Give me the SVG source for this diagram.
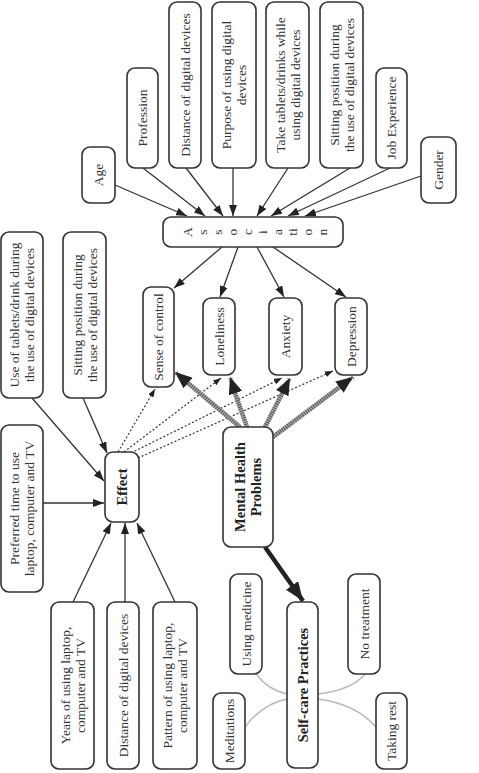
<svg xmlns="http://www.w3.org/2000/svg" width="479" height="773" viewBox="0 0 479 773">
<style>
.box{fill:#fff;stroke:#333;stroke-width:1.6}
.t{font-family:"Liberation Serif","Times New Roman",serif;font-size:13.5px;fill:#333;text-anchor:middle}
.b{font-weight:bold;font-size:14.5px;fill:#222}
.ln{fill:none;stroke:#333;stroke-width:1.3;marker-end:url(#arr)}
.dot{fill:none;stroke:#333;stroke-width:1.2;stroke-dasharray:2 2;marker-end:url(#sarr)}
.hb{fill:none;stroke:#aaa;stroke-width:4.5}
.hs{fill:none;stroke:#555;stroke-width:4.5;stroke-dasharray:1 1.3;marker-end:url(#barr)}
.blk{fill:none;stroke:#222;stroke-width:4.5;marker-end:url(#karr)}
.cv{fill:none;stroke:#bbb;stroke-width:1.6}
</style>
<defs>
<marker id="arr" markerUnits="userSpaceOnUse" markerWidth="11" markerHeight="8" refX="11" refY="4" orient="auto"><path d="M0,0 L11,4 L0,8 z" fill="#222"/></marker>
<marker id="sarr" markerUnits="userSpaceOnUse" markerWidth="8" markerHeight="6" refX="8" refY="3" orient="auto"><path d="M0,0 L8,3 L0,6 z" fill="#222"/></marker>
<marker id="barr" markerUnits="userSpaceOnUse" markerWidth="17" markerHeight="14" refX="17" refY="7" orient="auto"><path d="M0,0 L17,7 L0,14 z" fill="#222"/></marker>
<marker id="karr" markerUnits="userSpaceOnUse" markerWidth="19" markerHeight="15" refX="19" refY="7.5" orient="auto"><path d="M0,0 L19,7.5 L0,15 z" fill="#222"/></marker>
</defs>

<g id="connectors">
<path class="ln" d="M115,185 L187,216"/>
<path class="ln" d="M143,168 L205,216"/>
<path class="ln" d="M186,168 L223,216"/>
<path class="ln" d="M233,168 L233,216"/>
<path class="ln" d="M288,168 L257,216"/>
<path class="ln" d="M350,168 L271,216"/>
<path class="ln" d="M390,168 L288,216"/>
<path class="ln" d="M421,176 L305,216"/>
<path class="ln" d="M222,247 L174,288"/>
<path class="ln" d="M238,247 L220,297"/>
<path class="ln" d="M257,247 L284,297"/>
<path class="ln" d="M273,247 L346,297"/>
<path class="ln" d="M32,398 L104,481"/>
<path class="ln" d="M83,398 L107,453"/>
<path class="ln" d="M43,503 L104,503"/>
<path class="ln" d="M73,602 L111,523"/>
<path class="ln" d="M125,602 L125,523"/>
<path class="ln" d="M175,602 L137,523"/>
<path class="dot" d="M118,452 L155,389"/>
<path class="dot" d="M124,452 L221,378"/>
<path class="dot" d="M131,453 L282,378"/>
<path class="dot" d="M138,458 L333,371"/>
<path class="hb" d="M240,427 L182,378"/>
<path class="hs" d="M240,427 L175,372"/>
<path class="hb" d="M247,427 L232,386"/>
<path class="hs" d="M247,427 L230,377"/>
<path class="hb" d="M265,427 L286,386"/>
<path class="hs" d="M265,427 L290,378"/>
<path class="hb" d="M273,437 L345,383"/>
<path class="hs" d="M273,437 L353,377"/>
<path class="blk" d="M265,547 L303,601"/>
<path class="cv" d="M256,674 Q268,690 287,694"/>
<path class="cv" d="M245,727 Q262,704 287,699"/>
<path class="cv" d="M365,674 Q352,690 318,694"/>
<path class="cv" d="M376,727 Q356,704 318,699"/>
</g>

<g id="age"><rect class="box" x="82" y="147" width="33" height="56" rx="8"/><text class="t" transform="translate(98.5,175) rotate(-90)" y="4.5">Age</text></g>
<g id="profession"><rect class="box" x="127" y="68" width="31" height="100" rx="8"/><text class="t" transform="translate(142.5,118) rotate(-90)" y="4.5">Profession</text></g>
<g id="distance-top"><rect class="box" x="169" y="2" width="32" height="166" rx="8"/><text class="t" transform="translate(185,85) rotate(-90)" y="4.5">Distance of digital devices</text></g>
<g id="purpose"><rect class="box" x="212" y="2" width="44" height="166" rx="8"/><text class="t" transform="translate(234,85) rotate(-90)"><tspan x="0" y="-3">Purpose of using digital</tspan><tspan x="0" y="12">devices</tspan></text></g>
<g id="take-tablets"><rect class="box" x="266" y="2" width="43" height="166" rx="8"/><text class="t" transform="translate(287.5,85) rotate(-90)"><tspan x="0" y="-3">Take tablets/drinks while</tspan><tspan x="0" y="12">using digital devices</tspan></text></g>
<g id="sitting-top"><rect class="box" x="320" y="2" width="43" height="166" rx="8"/><text class="t" transform="translate(341.5,85) rotate(-90)"><tspan x="0" y="-3">Sitting position during</tspan><tspan x="0" y="12">the use of digital devices</tspan></text></g>
<g id="job-experience"><rect class="box" x="376" y="68" width="31" height="100" rx="8"/><text class="t" transform="translate(391.5,118) rotate(-90)" y="4.5">Job Experience</text></g>
<g id="gender"><rect class="box" x="421" y="137" width="35" height="66" rx="8"/><text class="t" transform="translate(438.5,170) rotate(-90)" y="4.5">Gender</text></g>

<g id="association"><rect class="box" x="163" y="217" width="180" height="30" rx="8"/>
<text class="t" transform="translate(187,232) rotate(-90)" y="4.5">A</text>
<text class="t" transform="translate(202,232) rotate(-90)" y="4.5">s</text>
<text class="t" transform="translate(217,232) rotate(-90)" y="4.5">s</text>
<text class="t" transform="translate(232,232) rotate(-90)" y="4.5">o</text>
<text class="t" transform="translate(247,232) rotate(-90)" y="4.5">c</text>
<text class="t" transform="translate(262,232) rotate(-90)" y="4.5">i</text>
<text class="t" transform="translate(277,232) rotate(-90)" y="4.5">a</text>
<text class="t" transform="translate(292,232) rotate(-90)" y="4.5">ti</text>
<text class="t" transform="translate(307,232) rotate(-90)" y="4.5">o</text>
<text class="t" transform="translate(322,232) rotate(-90)" y="4.5">n</text>
</g>

<g id="sense-of-control"><rect class="box" x="143" y="287" width="31" height="100" rx="8"/><text class="t" transform="translate(158.5,337) rotate(-90)" y="4.5">Sense of control</text></g>
<g id="loneliness"><rect class="box" x="203" y="298" width="32" height="77" rx="8"/><text class="t" transform="translate(219,336.5) rotate(-90)" y="4.5">Loneliness</text></g>
<g id="anxiety"><rect class="box" x="269" y="298" width="33" height="77" rx="8"/><text class="t" transform="translate(285.5,336.5) rotate(-90)" y="4.5">Anxiety</text></g>
<g id="depression"><rect class="box" x="335" y="298" width="32" height="77" rx="8"/><text class="t" transform="translate(351,336.5) rotate(-90)" y="4.5">Depression</text></g>

<g id="use-of-tablets"><rect class="box" x="1" y="232" width="42" height="166" rx="8"/><text class="t" transform="translate(22,315) rotate(-90)"><tspan x="0" y="-3">Use of tablets/drink during</tspan><tspan x="0" y="12">the use of digital devices</tspan></text></g>
<g id="sitting-left"><rect class="box" x="63" y="232" width="43" height="166" rx="8"/><text class="t" transform="translate(84.5,315) rotate(-90)"><tspan x="0" y="-3">Sitting position during</tspan><tspan x="0" y="12">the use of digital devices</tspan></text></g>
<g id="preferred-time"><rect class="box" x="1" y="425" width="42" height="167" rx="8"/><text class="t" transform="translate(22,508.5) rotate(-90)"><tspan x="0" y="-3">Preferred time to use</tspan><tspan x="0" y="12">laptop, computer and TV</tspan></text></g>

<g id="effect"><rect class="box" x="105" y="452" width="34" height="70" rx="8"/><text class="t b" transform="translate(122,487) rotate(-90)" y="5">Effect</text></g>
<g id="mental-health-problems"><rect class="box" x="223" y="427" width="50" height="120" rx="8"/><text class="t b" transform="translate(248,487) rotate(-90)"><tspan x="0" y="-3">Mental Health</tspan><tspan x="0" y="13">Problems</tspan></text></g>

<g id="years"><rect class="box" x="51" y="602" width="43" height="167" rx="8"/><text class="t" transform="translate(72.5,685.5) rotate(-90)"><tspan x="0" y="-3">Years of using laptop,</tspan><tspan x="0" y="12">computer and TV</tspan></text></g>
<g id="distance-left"><rect class="box" x="107" y="602" width="32" height="167" rx="8"/><text class="t" transform="translate(123,685.5) rotate(-90)" y="4.5">Distance of digital devices</text></g>
<g id="pattern"><rect class="box" x="153" y="602" width="44" height="167" rx="8"/><text class="t" transform="translate(175,685.5) rotate(-90)"><tspan x="0" y="-3">Pattern of using laptop,</tspan><tspan x="0" y="12">computer and TV</tspan></text></g>

<g id="self-care"><rect class="box" x="287" y="602" width="31" height="166" rx="8"/><text class="t b" transform="translate(302.5,685) rotate(-90)" y="5">Self-care Practices</text></g>
<g id="using-medicine"><rect class="box" x="230" y="574" width="32" height="100" rx="8"/><text class="t" transform="translate(246,624) rotate(-90)" y="4.5">Using medicine</text></g>
<g id="meditations"><rect class="box" x="213" y="693" width="32" height="76" rx="8"/><text class="t" transform="translate(229,731) rotate(-90)" y="4.5">Meditations</text></g>
<g id="no-treatment"><rect class="box" x="348" y="574" width="32" height="100" rx="8"/><text class="t" transform="translate(364,624) rotate(-90)" y="4.5">No treatment</text></g>
<g id="taking-rest"><rect class="box" x="376" y="693" width="31" height="76" rx="8"/><text class="t" transform="translate(391.5,731) rotate(-90)" y="4.5">Taking rest</text></g>
</svg>
